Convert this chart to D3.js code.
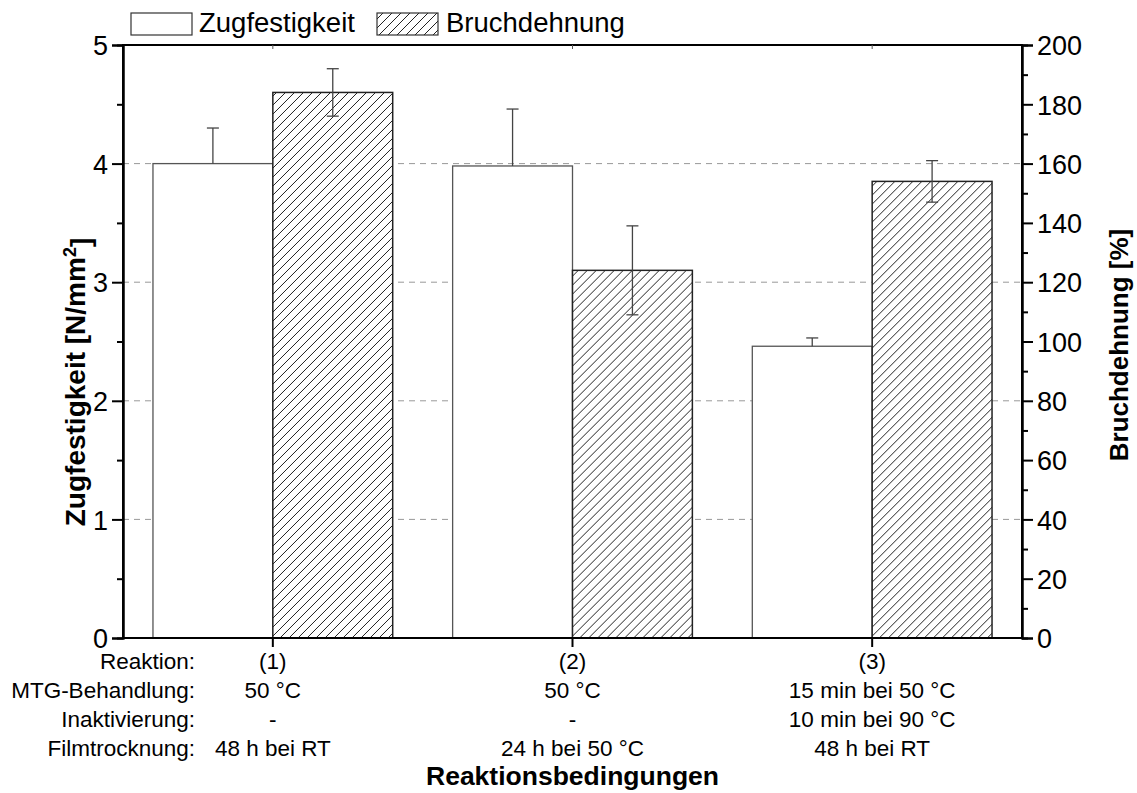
<!DOCTYPE html>
<html>
<head>
<meta charset="utf-8">
<script src="https://cdn.jsdelivr.net/npm/d3@7"></script>
<style>
  html, body { margin: 0; padding: 0; background: #fff; }
  svg text { font-family: "Liberation Sans", Arial, sans-serif; fill: #000; }
</style>
</head>
<body>
<svg id="chart" width="1137" height="793"></svg>
<script>
// Reaction conditions (categories) and measured values
const categories = ["(1)", "(2)", "(3)"];
const zugfestigkeit = [4.0, 3.98, 2.46];        // N/mm²
const zugfestigkeitErr = [0.30, 0.48, 0.07];
const bruchdehnung = [184, 124, 154];            // %
const bruchdehnungErr = [8, 15, 7];

const rowLabels = ["Reaktion:", "MTG-Behandlung:", "Inaktivierung:", "Filmtrocknung:"];
const mtgBehandlung = ["50 °C", "50 °C", "15 min bei 50 °C"];
const inaktivierung = ["-", "-", "10 min bei 90 °C"];
const filmtrocknung = ["48 h bei RT", "24 h bei 50 °C", "48 h bei RT"];

const leftTicks = [0, 1, 2, 3, 4, 5];
const rightTicks = [0, 20, 40, 60, 80, 100, 120, 140, 160, 180, 200];

const svg = d3.select("#chart");
const m = { left: 123, right: 1022, top: 45, bottom: 638 };

const x = d3.scaleBand().domain(categories).range([m.left, m.right])
  .paddingInner(0.2).paddingOuter(0.1);
const xSub = d3.scaleBand().domain(["z", "b"]).range([0, x.bandwidth()]);
const yL = d3.scaleLinear().domain([0, 5]).range([m.bottom, m.top]);
const yR = d3.scaleLinear().domain([0, 200]).range([m.bottom, m.top]);

// Diagonal hatch pattern
const defs = svg.append("defs");
const pat = defs.append("pattern").attr("id", "hatch")
  .attr("patternUnits", "userSpaceOnUse").attr("width", 9).attr("height", 9);
pat.append("rect").attr("width", 9).attr("height", 9).attr("fill", "#fff");
pat.append("path").attr("d", "M-1,1 l2,-2 M0,9 l9,-9 M8,10 l2,-2")
  .attr("stroke", "#222").attr("stroke-width", 1);

// Dashed grid lines
svg.append("g").selectAll("line").data([1, 2, 3, 4]).join("line")
  .attr("x1", m.left).attr("x2", m.right)
  .attr("y1", d => yL(d)).attr("y2", d => yL(d))
  .attr("stroke", "#999").attr("stroke-width", 1).attr("stroke-dasharray", "6,5");

// Bars
const groups = svg.append("g").selectAll("g").data(categories).join("g")
  .attr("transform", d => `translate(${x(d)},0)`);

groups.append("rect")
  .attr("x", xSub("z")).attr("width", xSub.bandwidth())
  .attr("y", (d, i) => yL(zugfestigkeit[i]))
  .attr("height", (d, i) => m.bottom - yL(zugfestigkeit[i]))
  .attr("fill", "#fff").attr("stroke", "#555").attr("stroke-width", 1.3);

groups.append("rect")
  .attr("x", xSub("b")).attr("width", xSub.bandwidth())
  .attr("y", (d, i) => yR(bruchdehnung[i]))
  .attr("height", (d, i) => m.bottom - yR(bruchdehnung[i]))
  .attr("fill", "url(#hatch)").attr("stroke", "#222").attr("stroke-width", 1.5);

// Error bars
function cap(g, cx, y) {
  g.append("line").attr("x1", cx - 6).attr("x2", cx + 6).attr("y1", y).attr("y2", y)
    .attr("stroke", "#444").attr("stroke-width", 1.3);
}
function stem(g, cx, y1, y2) {
  g.append("line").attr("x1", cx).attr("x2", cx).attr("y1", y1).attr("y2", y2)
    .attr("stroke", "#444").attr("stroke-width", 1.3);
}
groups.each(function (d, i) {
  const g = d3.select(this);
  // white bars: upper half only, the lower half lies inside the bar
  const cz = xSub("z") + xSub.bandwidth() / 2;
  const zTop = yL(zugfestigkeit[i] + zugfestigkeitErr[i]);
  stem(g, cz, zTop, yL(zugfestigkeit[i]));
  cap(g, cz, zTop);
  // hatched bars: full range
  const cb = xSub("b") + xSub.bandwidth() / 2;
  const bTop = yR(bruchdehnung[i] + bruchdehnungErr[i]);
  const bBot = yR(bruchdehnung[i] - bruchdehnungErr[i]);
  stem(g, cb, bTop, bBot);
  cap(g, cb, bTop);
  cap(g, cb, bBot);
});

// Frame
svg.append("rect").attr("x", m.left).attr("y", m.top)
  .attr("width", m.right - m.left).attr("height", m.bottom - m.top)
  .attr("fill", "none").attr("stroke", "#000").attr("stroke-width", 2);

// Left axis
const gL = svg.append("g").attr("transform", `translate(${m.left},0)`);
gL.call(d3.axisLeft(yL).tickValues(leftTicks).tickFormat(d3.format("d")).tickSize(11).tickPadding(4));
gL.append("g").call(d3.axisLeft(yL).tickValues([0.5, 1.5, 2.5, 3.5, 4.5]).tickSize(6).tickFormat(""));
gL.selectAll(".domain").attr("stroke", "#000").attr("stroke-width", 2);
gL.selectAll(".tick line").attr("stroke", "#000").attr("stroke-width", 2);
gL.selectAll(".tick text").style("font-size", "27px").attr("dy", "0.36em");

// Right axis
const gR = svg.append("g").attr("transform", `translate(${m.right},0)`);
gR.call(d3.axisRight(yR).tickValues(rightTicks).tickFormat(d3.format("d")).tickSize(11).tickPadding(4));
gR.append("g").call(d3.axisRight(yR).tickValues(d3.range(10, 200, 20)).tickSize(6).tickFormat(""));
gR.selectAll(".domain").attr("stroke", "#000").attr("stroke-width", 2);
gR.selectAll(".tick line").attr("stroke", "#000").attr("stroke-width", 2);
gR.selectAll(".tick text").style("font-size", "27px").attr("dy", "0.36em");

// Bottom axis ticks at category centres
const gB = svg.append("g").attr("transform", `translate(0,${m.bottom})`);
gB.call(d3.axisBottom(x).tickSize(9).tickFormat(""));
gB.select(".domain").remove();
gB.selectAll(".tick line").attr("stroke", "#000").attr("stroke-width", 2);
// small inward ticks on the top edge
const gT = svg.append("g").attr("transform", `translate(0,${m.top})`);
gT.call(d3.axisBottom(x).tickSize(4).tickFormat(""));
gT.select(".domain").remove();
gT.selectAll(".tick line").attr("stroke", "#555").attr("stroke-width", 1);

// Condition table under the axis
const rowY = [663, 692, 721, 750];
const tbl = svg.append("g").style("font-size", "22.5px");
tbl.selectAll("text.row").data(rowLabels).join("text").attr("class", "row")
  .attr("x", 195).attr("y", (d, i) => rowY[i]).attr("text-anchor", "end")
  .attr("dominant-baseline", "middle").text(d => d);
const rows = [categories, mtgBehandlung, inaktivierung, filmtrocknung];
rows.forEach((vals, r) => {
  tbl.selectAll(null).data(categories).join("text")
    .attr("x", d => x(d) + x.bandwidth() / 2).attr("y", rowY[r])
    .attr("text-anchor", "middle").attr("dominant-baseline", "middle")
    .text((d, i) => vals[i]);
});

// Axis titles
svg.append("text").attr("x", (m.left + m.right) / 2).attr("y", 785)
  .attr("text-anchor", "middle").style("font-size", "26.5px").style("font-weight", "bold")
  .text("Reaktionsbedingungen");

const lt = svg.append("text").attr("transform", `translate(85,382) rotate(-90)`)
  .attr("text-anchor", "middle").style("font-size", "28px").style("font-weight", "bold");
lt.append("tspan").text("Zugfestigkeit [N/mm");
lt.append("tspan").attr("dy", "-0.5em").style("font-size", "18px").text("2");
lt.append("tspan").attr("dy", "0.5em").text("]");

svg.append("text").attr("transform", `translate(1128,345) rotate(-90)`)
  .attr("text-anchor", "middle").style("font-size", "26px").style("font-weight", "bold")
  .text("Bruchdehnung [%]");

// Legend
const leg = svg.append("g");
leg.append("rect").attr("x", 131).attr("y", 13).attr("width", 61).attr("height", 22)
  .attr("fill", "#fff").attr("stroke", "#333").attr("stroke-width", 1.2);
leg.append("text").attr("x", 199).attr("y", 25).attr("dominant-baseline", "middle")
  .style("font-size", "27.5px").text("Zugfestigkeit");
leg.append("rect").attr("x", 377).attr("y", 13).attr("width", 61).attr("height", 22)
  .attr("fill", "url(#hatch)").attr("stroke", "#333").attr("stroke-width", 1.2);
leg.append("text").attr("x", 446).attr("y", 25).attr("dominant-baseline", "middle")
  .style("font-size", "27.5px").text("Bruchdehnung");
</script>
</body>
</html>
